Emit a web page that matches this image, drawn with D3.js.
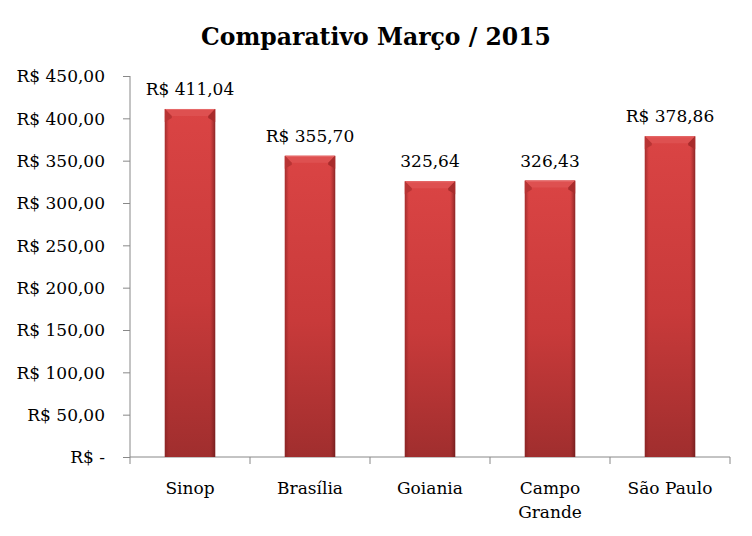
<!DOCTYPE html>
<html><head><meta charset="utf-8">
<script src="https://cdn.jsdelivr.net/npm/d3@7"></script>
<style>
html,body{margin:0;padding:0;background:#fff;}
</style></head>
<body>
<svg id="chart" width="752" height="536"></svg>
<script>
const title = "Comparativo Março / 2015";
const categories = ["Sinop", "Brasília", "Goiania", "Campo Grande", "São Paulo"];
const values = [411.04, 355.70, 325.64, 326.43, 378.86];
const currencyLabel = [true, true, false, false, true];
const yTicks = [0, 50, 100, 150, 200, 250, 300, 350, 400, 450];

(function () {
const FONT = "'DejaVu Serif', serif";
const svg = d3.select("#chart");
const pLeft = 130, pRight = 730, pTop = 76, pBottom = 457;

const x = d3.scaleBand().domain(categories).range([pLeft, pRight]).paddingInner(0.58).paddingOuter(0.29);
const y = d3.scaleLinear().domain([0, 450]).range([pBottom, pTop]);

const fmt = v => v.toFixed(2).replace(".", ",");

const defs = svg.append("defs");
const g1 = defs.append("linearGradient").attr("id", "barGrad").attr("x1", 0).attr("y1", 0).attr("x2", 0).attr("y2", 1);
g1.append("stop").attr("offset", "0%").attr("stop-color", "#da4444");
g1.append("stop").attr("offset", "55%").attr("stop-color", "#c83a3a");
g1.append("stop").attr("offset", "100%").attr("stop-color", "#a02e2e");
const g2 = defs.append("linearGradient").attr("id", "sideGrad").attr("x1", 0).attr("y1", 0).attr("x2", 1).attr("y2", 0);
g2.append("stop").attr("offset", "0%").attr("stop-color", "#7a1e1e").attr("stop-opacity", 0.55);
g2.append("stop").attr("offset", "8%").attr("stop-color", "#7a1e1e").attr("stop-opacity", 0);
g2.append("stop").attr("offset", "90%").attr("stop-color", "#7a1e1e").attr("stop-opacity", 0);
g2.append("stop").attr("offset", "100%").attr("stop-color", "#5a1414").attr("stop-opacity", 0.6);

svg.append("text").attr("x", 376).attr("y", 45).attr("text-anchor", "middle")
  .style("font-family", FONT).style("font-size", "23.5px").style("font-weight", "bold").text(title);

const yAxis = svg.append("g").attr("transform", `translate(${pLeft},0)`)
  .call(d3.axisLeft(y).tickValues(yTicks).tickSize(7).tickPadding(18)
    .tickFormat(v => v === 0 ? "R$ -" : "R$ " + fmt(v)));
yAxis.attr("font-family", null).attr("font-size", null);
yAxis.selectAll("text").style("font-family", FONT).style("font-size", "17px").attr("dy", "0.34em").attr("fill", "#000");
yAxis.selectAll("line,path").attr("stroke", "#888");
yAxis.select(".domain").attr("d", `M0,${pBottom}V${pTop}`);

const xg = svg.append("g");
xg.append("line").attr("x1", pLeft).attr("x2", pRight).attr("y1", pBottom).attr("y2", pBottom).attr("stroke", "#888");
const edges = categories.map(c => x(c) - x.step() * x.paddingInner() / 2);
edges.push(pRight);
xg.selectAll("line.t").data(edges).join("line").attr("class", "t")
  .attr("x1", d => d).attr("x2", d => d).attr("y1", pBottom).attr("y2", pBottom + 7).attr("stroke", "#888");

const lab = svg.append("g");
categories.forEach((c) => {
  const words = c === "Campo Grande" ? ["Campo", "Grande"] : [c];
  const t = lab.append("text").attr("x", x(c) + x.bandwidth() / 2).attr("y", 494)
    .attr("text-anchor", "middle").style("font-family", FONT).style("font-size", "17px");
  words.forEach((w, j) => t.append("tspan").attr("x", x(c) + x.bandwidth() / 2).attr("dy", j ? 24 : 0).text(w));
});

const bw = x.bandwidth();
const bars = svg.append("g").selectAll("g").data(categories.map((c, i) => ({c, v: values[i], cur: currencyLabel[i]}))).join("g");
bars.append("rect").attr("x", d => x(d.c)).attr("y", d => y(d.v)).attr("width", bw).attr("height", d => pBottom - y(d.v))
  .attr("fill", "url(#barGrad)");
bars.append("rect").attr("x", d => x(d.c)).attr("y", d => y(d.v)).attr("width", bw).attr("height", d => pBottom - y(d.v))
  .attr("fill", "url(#sideGrad)");
const bv = 7;
bars.append("path").attr("d", d => {
  const x0 = x(d.c), x1 = x0 + bw, t = y(d.v);
  return `M${x0},${t}L${x1},${t}L${x1 - bv},${t + bv}L${x0 + bv},${t + bv}Z`;
}).attr("fill", "#de5050");
bars.append("path").attr("d", d => {
  const x0 = x(d.c), t = y(d.v);
  return `M${x0},${t}L${x0 + bv},${t + bv}L${x0 + bv},${t + bv + 2}L${x0},${t + bv + 6}Z`;
}).attr("fill", "#b83434");
bars.append("path").attr("d", d => {
  const x1 = x(d.c) + bw, t = y(d.v);
  return `M${x1},${t}L${x1 - bv},${t + bv}L${x1 - bv},${t + bv + 2}L${x1},${t + bv + 6}Z`;
}).attr("fill", "#a82c2c");
bars.append("line").attr("x1", d => x(d.c) + 1).attr("x2", d => x(d.c) + bw - 1)
  .attr("y1", d => y(d.v) + 0.5).attr("y2", d => y(d.v) + 0.5).attr("stroke", "#e66a6a").attr("stroke-width", 1);

bars.append("text").attr("x", d => x(d.c) + bw / 2).attr("y", d => y(d.v) - 14)
  .attr("text-anchor", "middle").style("font-family", FONT).style("font-size", "17px")
  .text(d => (d.cur ? "R$ " : "") + fmt(d.v));
})();
</script>
</body></html>
